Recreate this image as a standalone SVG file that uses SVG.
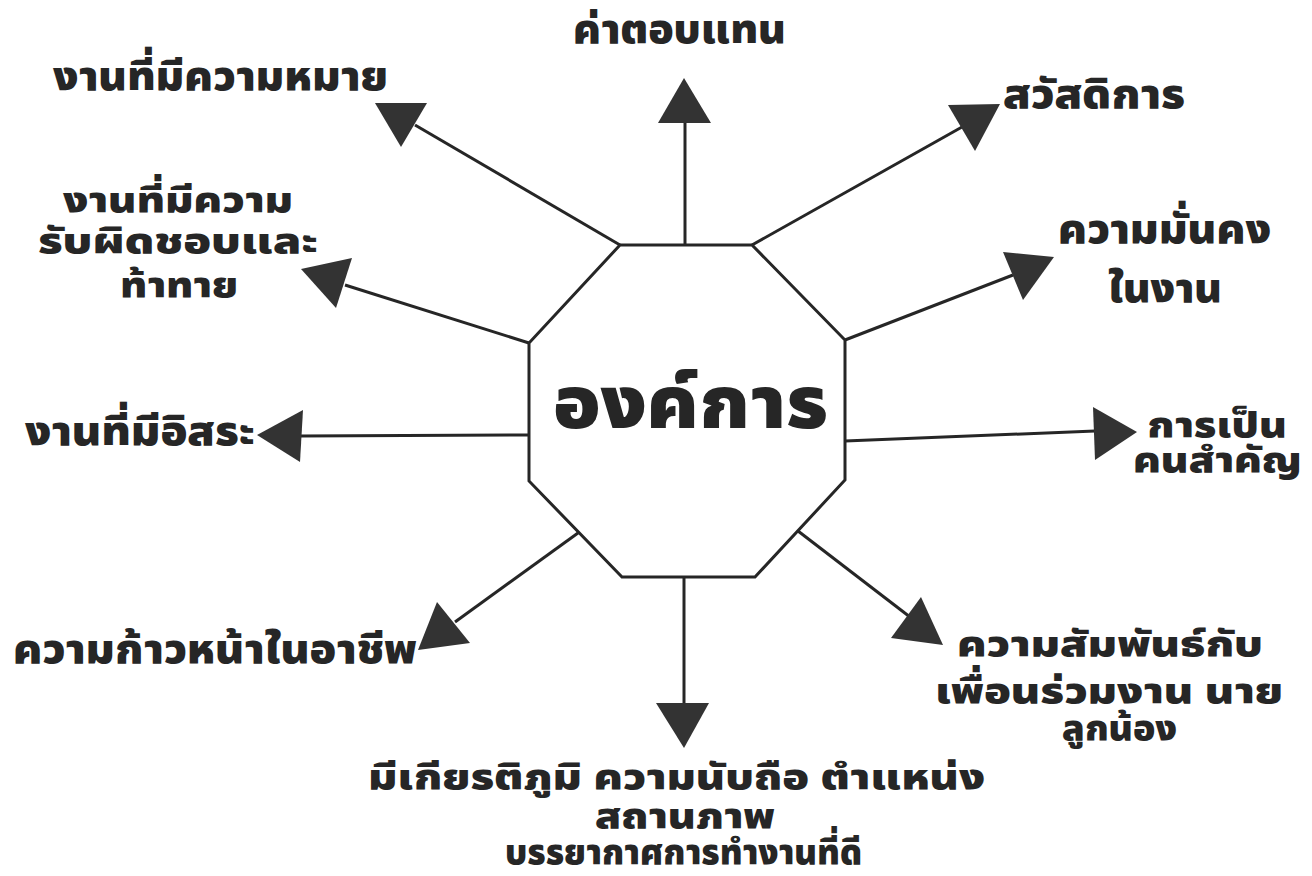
<svg xmlns="http://www.w3.org/2000/svg" width="1312" height="876" viewBox="0 0 1312 876">
<style>
.lbl{font-family:"Noto Sans Thai","Noto Sans","DejaVu Sans",sans-serif;font-weight:900;font-size:41px;fill:#262626}
.sm{font-size:36px}
.big{font-size:72px}
.ln{stroke:#262626;stroke-width:3;fill:none}
.hd{fill:#333333;stroke:none}
</style>
<rect width="1312" height="876" fill="#ffffff"/>
<g id="connectors">
<line class="ln" x1="685" y1="245" x2="685" y2="123"/>
<polygon class="hd" points="658,123 711,123 684,78"/>
<line class="ln" x1="752" y1="245" x2="962" y2="127"/>
<polygon class="hd" points="948,105 1000,104 975,151"/>
<line class="ln" x1="845" y1="340" x2="1013" y2="275"/>
<polygon class="hd" points="1003,252 1054,257 1023,300"/>
<line class="ln" x1="845" y1="441" x2="1095" y2="431"/>
<polygon class="hd" points="1093,407 1137,432 1095,460"/>
<line class="ln" x1="798" y1="531" x2="910" y2="617"/>
<polygon class="hd" points="921,597 943,645 891,638"/>
<line class="ln" x1="684" y1="577" x2="684" y2="703"/>
<polygon class="hd" points="656,703 709,703 684,748"/>
<line class="ln" x1="578" y1="533" x2="455" y2="622"/>
<polygon class="hd" points="437,602 470,643 418,650"/>
<line class="ln" x1="529" y1="435" x2="300" y2="436"/>
<polygon class="hd" points="257,435 303,410 300,462"/>
<line class="ln" x1="529" y1="343" x2="345" y2="285"/>
<polygon class="hd" points="301,269 352,258 336,308"/>
<line class="ln" x1="620" y1="245" x2="415" y2="125"/>
<polygon class="hd" points="375,103 427,103 401,147"/>
</g>
<g id="center">
<polygon class="ln" points="620,245 752,245 845,340 845,480 755,577 622,577 529,481 529,343"/>
<text class="lbl big" x="553" y="428" textLength="275" lengthAdjust="spacingAndGlyphs">องค์การ</text>
</g>
<g id="n-pay"><text class="lbl" x="573" y="43" textLength="213" lengthAdjust="spacingAndGlyphs">ค่าตอบแทน</text></g>
<g id="n-meaning"><text class="lbl" x="53" y="90" textLength="335" lengthAdjust="spacingAndGlyphs">งานที่มีความหมาย</text></g>
<g id="n-welfare"><text class="lbl" x="1003" y="108" textLength="182" lengthAdjust="spacingAndGlyphs">สวัสดิการ</text></g>
<g id="n-challenge">
<text class="lbl sm" x="63" y="212" textLength="230" lengthAdjust="spacingAndGlyphs">งานที่มีความ</text>
<text class="lbl sm" x="38" y="253" textLength="280" lengthAdjust="spacingAndGlyphs">รับผิดชอบและ</text>
<text class="lbl sm" x="120" y="297" textLength="118" lengthAdjust="spacingAndGlyphs">ท้าทาย</text>
</g>
<g id="n-security">
<text class="lbl" x="1058" y="243" textLength="213" lengthAdjust="spacingAndGlyphs">ความมั่นคง</text>
<text class="lbl" x="1108" y="302" textLength="114" lengthAdjust="spacingAndGlyphs">ในงาน</text>
</g>
<g id="n-autonomy"><text class="lbl" x="25" y="445" textLength="230" lengthAdjust="spacingAndGlyphs">งานที่มีอิสระ</text></g>
<g id="n-important">
<text class="lbl sm" x="1147" y="437" textLength="140" lengthAdjust="spacingAndGlyphs">การเป็น</text>
<text class="lbl sm" x="1133" y="472" textLength="169" lengthAdjust="spacingAndGlyphs">คนสำคัญ</text>
</g>
<g id="n-career"><text class="lbl" x="13" y="663" textLength="404" lengthAdjust="spacingAndGlyphs">ความก้าวหน้าในอาชีพ</text></g>
<g id="n-relations">
<text class="lbl sm" x="957" y="656" textLength="306" lengthAdjust="spacingAndGlyphs">ความสัมพันธ์กับ</text>
<text class="lbl sm" x="935" y="703" textLength="348" lengthAdjust="spacingAndGlyphs">เพื่อนร่วมงาน นาย</text>
<text class="lbl sm" x="1062" y="740" textLength="115" lengthAdjust="spacingAndGlyphs">ลูกน้อง</text>
</g>
<g id="n-status">
<text class="lbl sm" x="368" y="789" textLength="617" lengthAdjust="spacingAndGlyphs">มีเกียรติภูมิ ความนับถือ ตำแหน่ง</text>
<text class="lbl sm" x="595" y="828" textLength="180" lengthAdjust="spacingAndGlyphs">สถานภาพ</text>
<text class="lbl sm" x="505" y="864" textLength="357" lengthAdjust="spacingAndGlyphs">บรรยากาศการทำงานที่ดี</text>
</g>
</svg>
